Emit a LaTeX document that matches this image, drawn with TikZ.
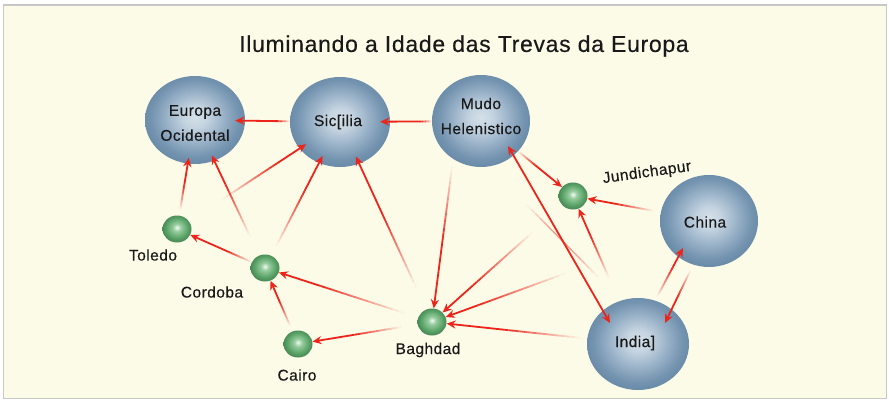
\documentclass[tikz,border=0pt]{standalone}
\usepackage{fontspec}
\setmainfont{Liberation Sans}[LetterSpace=3, FakeBold=0.35]
\usetikzlibrary{shapes.geometric,arrows.meta,calc}

\definecolor{bgc}{RGB}{252,251,232}
\definecolor{arrred}{RGB}{236,36,26}
\definecolor{bhi}{RGB}{212,224,233}
\definecolor{bmid}{RGB}{150,175,198}
\definecolor{bout}{RGB}{115,147,175}
\definecolor{bedge}{RGB}{108,141,170}
\definecolor{ghi}{RGB}{242,250,242}
\definecolor{gmid}{RGB}{150,204,158}
\definecolor{gout}{RGB}{88,162,102}
\definecolor{txt}{RGB}{25,25,25}

\pgfdeclareradialshading{bluesph}{\pgfpoint{0bp}{2bp}}{color(0bp)=(bhi); color(6bp)=(bhi!75!bmid); color(15bp)=(bmid); color(22bp)=(bout); color(25bp)=(bedge); color(50bp)=(bedge)}
\pgfdeclareradialshading{greensph}{\pgfpoint{0bp}{3bp}}{color(0bp)=(ghi); color(7bp)=(gmid); color(19bp)=(gout); color(25bp)=(gout!85!black); color(50bp)=(gout)}

\newcommand\farrow[5][]{%
  \path (#2) -- (#3) coordinate[pos=0] (fa-s) coordinate[pos=1] (fa-e);
  \foreach \k in {1,...,14}{%
    \pgfmathsetmacro\fop{(\k-0.5)/14}%
    \pgfmathsetmacro\fa{#4+(#5-#4)*(\k-1)/14}%
    \pgfmathsetmacro\fb{#4+(#5-#4)*\k/14}%
    \draw[arrline, draw opacity=\fop] ($(fa-s)!\fa!(fa-e)$) -- ($(fa-s)!\fb!(fa-e)$);
  }%
  \draw[arrline, tip, #1] ($(fa-s)!#5!(fa-e)$) -- (fa-e);
}

\begin{document}
\begin{tikzpicture}[x=1pt,y=-1pt,
  bigball/.style={ellipse, shade, shading=bluesph, inner sep=0pt},
  smallball/.style={ellipse, shade, shading=greensph, inner sep=0pt, minimum width=29pt, minimum height=27pt},
  inlbl/.style={text=txt, font=\fontsize{15.5}{25}\selectfont, inner sep=0pt, align=center},
  lbl/.style={text=txt, font=\fontsize{15.5}{18}\selectfont, inner sep=0pt},
  arrline/.style={line width=1.8pt, draw=arrred},
  tip/.style={-{Stealth[length=9pt,width=8pt]}},
]
\useasboundingbox (0,0) rectangle (889,402);
\fill[white] (0,0) rectangle (889,402);
\draw[fill=bgc, draw=black!22, line width=1.5pt] (3.5,5) rectangle (886.5,398.5);

% title
\node[text=txt, font=\fontsize{23}{28}\selectfont, inner sep=0pt] (title) at (464,46) {Iluminando a Idade das Trevas da Europa};

% big nodes
\node[bigball, minimum width=100pt, minimum height=88pt] (eur) at (195,120) {};
\node[bigball, minimum width=100pt, minimum height=90pt] (sic) at (340,122) {};
\node[bigball, minimum width=98pt, minimum height=92pt] (mud) at (481,121) {};
\node[bigball, minimum width=98pt, minimum height=92pt] (chi) at (709,221) {};
\node[bigball, minimum width=102pt, minimum height=92pt] (ind) at (638,344) {};

% small nodes
\node[smallball] (tol) at (177,229) {};
\node[smallball] (cor) at (265,268) {};
\node[smallball] (cai) at (298,344) {};
\node[smallball] (bag) at (432,322) {};
\node[smallball] (jun) at (573,196) {};

% arrows
\farrow[shorten >=-10pt]{sic}{eur}{0}{0.25}
\farrow[shorten >=-10pt]{mud}{sic}{0}{0.25}
\farrow[shorten >=-6pt]{tol}{eur}{0.1}{0.6}
\farrow[shorten >=-6pt]{cor}{eur}{0.2}{0.75}
\farrow[shorten >=-8pt]{tol}{sic}{0.3}{0.8}
\farrow[shorten >=-8pt]{cor}{sic}{0.1}{0.7}
\farrow[shorten >=-8pt]{bag}{sic}{0.15}{0.65}
\farrow{cor}{tol}{0}{0.4}
\farrow{bag}{cor}{0.1}{0.7}
\farrow{cai}{cor}{0.1}{0.6}
\farrow{bag}{cai}{0.15}{0.6}
\coordinate (mb-s) at ($(mud)+(-29,46)$);
\farrow{mb-s}{bag}{0}{0.5}
\farrow{jun}{bag}{0.25}{0.75}
\farrow{chi}{bag}{0.45}{0.85}
\farrow{ind}{bag}{0.05}{0.6}
\farrow{mud}{jun}{0}{0.4}
\farrow{chi}{jun}{0.1}{0.6}
\farrow{ind}{jun}{0.25}{0.7}

% Mudo <-> India
\coordinate (mi-a) at ($(mud)+(27,25)$);
\coordinate (mi-b) at ($(ind)+(-28,-21)$);
\draw[arrline, {Stealth[length=9pt,width=8pt]}-{Stealth[length=9pt,width=8pt]}] (mi-a) -- (mi-b);

% faint line between Mudo and India
\coordinate (fl-a) at ($(mud)+(46,84)$);
\coordinate (fl-b) at ($(mud)+(117,156)$);
\foreach \k in {1,...,16}{%
  \pgfmathsetmacro\fop{0.45*sin(180*(\k-0.5)/16)}%
  \draw[arrline, line width=1.5pt, draw opacity=\fop] ($(fl-a)!{(\k-1)/16}!(fl-b)$) -- ($(fl-a)!{\k/16}!(fl-b)$);
}

% India <-> China
\coordinate (ic-s) at ($(ind)+(19,-47)$);
\coordinate (ic-t) at ($(chi)+(-26,27)$);
\farrow{ic-s}{ic-t}{0}{0.6}
\coordinate (ci-s) at ($(chi)+(-16,44)$);
\coordinate (ci-t) at ($(ind)+(27,-21)$);
\farrow{ci-s}{ci-t}{0.1}{0.55}

% texts in big nodes
\node[inlbl] (eur-t) at (195,123) {Europa\\Ocidental};
\node[inlbl] (sic-t) at (338,122) {Sic[ilia};
\node[inlbl] (mud-t) at (481,116) {Mudo\\Helenistico};
\node[inlbl] (chi-t) at (705,222) {China};
\node[inlbl] (ind-t) at (635,343) {India]};

% labels
\node[lbl] (tol-l) at (153,255) {Toledo};
\node[lbl] (cor-l) at (212,292) {Cordoba};
\node[lbl] (cai-l) at (297,375) {Cairo};
\node[lbl] (bag-l) at (428,350) {Baghdad};
\node[lbl, rotate=8] (jun-l) at (647,173) {Jundichapur};
\end{tikzpicture}
\end{document}
